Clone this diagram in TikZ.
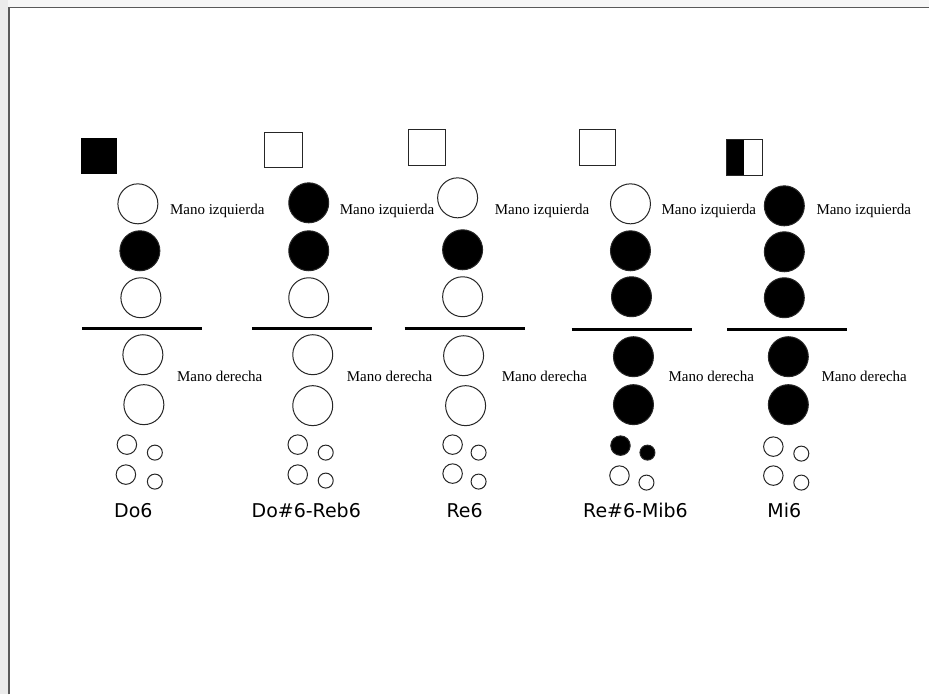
\documentclass[tikz,border=0pt]{standalone}
\usepackage{fontspec}
\setmainfont{Liberation Serif}
\setsansfont{DejaVu Sans}

\begin{document}
\begin{tikzpicture}[x=1pt,y=-1pt,
  hole/.style={circle,draw=black!85,line width=1pt,inner sep=0pt,minimum size=40pt},
  llave/.style={hole,minimum size=19.5pt},
  llavita/.style={hole,minimum size=15pt},
  tapado/.style={fill=black},
  abierto/.style={fill=white},
  mano/.style={anchor=base west,inner sep=0pt,font=\fontsize{15}{15}\selectfont},
  nota/.style={anchor=base,inner sep=0pt,font=\sffamily\fontsize{19}{19}\selectfont},
  raya/.style={line width=2.6pt},
  porta/.style={draw=black!85,line width=1pt}]
 % page
 \fill[gray!7] (0,0) rectangle (930,695);
 \fill[gray!16] (0,0) rectangle (8,695);
 \fill[white] (9,8) rectangle (930,695);
 \draw[black!65,line width=1.6pt] (9,695)--(9,7.5)--(930,7.5);
 \useasboundingbox (0,0) rectangle (930,695);

 % Do6
 \fill[black] (81,138) rectangle (117,174);
 \node[hole,abierto] (a1) at (138,204) {};
 \node[hole,tapado]  (a2) at (140,251) {};
 \node[hole,abierto] (a3) at (141,298) {};
 \draw[raya] (82,329)--(202,329);
 \node[hole,abierto] (a4) at (143,355) {};
 \node[hole,abierto] (a5) at (144,405) {};
 \node[llave,abierto]   (a6) at (127,445) {};
 \node[llavita,abierto] (a7) at (155,453) {};
 \node[llave,abierto]   (a8) at (126,475) {};
 \node[llavita,abierto] (a9) at (155,482) {};
 \node[mano] (aiz) at (170,215) {Mano izquierda};
 \node[mano] (ade) at (177,382) {Mano derecha};
 \node[nota] (anota) at (133.5,518) {Do6};

 % Do#6-Reb6
 \draw[porta,fill=white] (265,133) rectangle (303,168);
 \node[hole,tapado]  (b1) at (309,203) {};
 \node[hole,tapado]  (b2) at (309,251) {};
 \node[hole,abierto] (b3) at (309,298) {};
 \draw[raya] (252,329)--(372,329);
 \node[hole,abierto] (b4) at (313,355) {};
 \node[hole,abierto] (b5) at (313,406) {};
 \node[llave,abierto]   (b6) at (298,445) {};
 \node[llavita,abierto] (b7) at (326,453) {};
 \node[llave,abierto]   (b8) at (298,475) {};
 \node[llavita,abierto] (b9) at (326,481) {};
 \node[mano] (biz) at (340,215) {Mano izquierda};
 \node[mano] (bde) at (347,382) {Mano derecha};
 \node[nota] (bnota) at (306.5,518) {Do\#6-Reb6};

 % Re6
 \draw[porta,fill=white] (409,130) rectangle (446,166);
 \node[hole,abierto] (c1) at (458,198) {};
 \node[hole,tapado]  (c2) at (463,250) {};
 \node[hole,abierto] (c3) at (463,297) {};
 \draw[raya] (405,329)--(525,329);
 \node[hole,abierto] (c4) at (464,356) {};
 \node[hole,abierto] (c5) at (466,406) {};
 \node[llave,abierto]   (c6) at (453,445) {};
 \node[llavita,abierto] (c7) at (479,453) {};
 \node[llave,abierto]   (c8) at (453,474) {};
 \node[llavita,abierto] (c9) at (479,482) {};
 \node[mano] (ciz) at (495,215) {Mano izquierda};
 \node[mano] (cde) at (502,382) {Mano derecha};
 \node[nota] (cnota) at (465,518) {Re6};

 % Re#6-Mib6
 \draw[porta,fill=white] (580,130) rectangle (616,166);
 \node[hole,abierto] (d1) at (631,204) {};
 \node[hole,tapado]  (d2) at (631,251) {};
 \node[hole,tapado]  (d3) at (632,297) {};
 \draw[raya] (572,330)--(693,330);
 \node[hole,tapado]  (d4) at (634,357) {};
 \node[hole,tapado]  (d5) at (634,405) {};
 \node[llave,tapado]    (d6) at (621,446) {};
 \node[llavita,tapado]  (d7) at (648,453) {};
 \node[llave,abierto]   (d8) at (620,476) {};
 \node[llavita,abierto] (d9) at (647,483) {};
 \node[mano] (diz) at (662,215) {Mano izquierda};
 \node[mano] (dde) at (669,382) {Mano derecha};
 \node[nota] (dnota) at (636,518) {Re\#6-Mib6};

 % Mi6
 \fill[black] (727,140) rectangle (745,176);
 \draw[porta] (727,140) rectangle (763,176);
 \node[hole,tapado]  (e1) at (785,206) {};
 \node[hole,tapado]  (e2) at (785,252) {};
 \node[hole,tapado]  (e3) at (785,298) {};
 \draw[raya] (728,330)--(848,330);
 \node[hole,tapado]  (e4) at (789,357) {};
 \node[hole,tapado]  (e5) at (789,405) {};
 \node[llave,abierto]   (e6) at (774,447) {};
 \node[llavita,abierto] (e7) at (802,454) {};
 \node[llave,abierto]   (e8) at (774,476) {};
 \node[llavita,abierto] (e9) at (802,483) {};
 \node[mano] (eiz) at (817,215) {Mano izquierda};
 \node[mano] (ede) at (822,382) {Mano derecha};
 \node[nota] (enota) at (785,518) {Mi6};
\end{tikzpicture}
\end{document}
